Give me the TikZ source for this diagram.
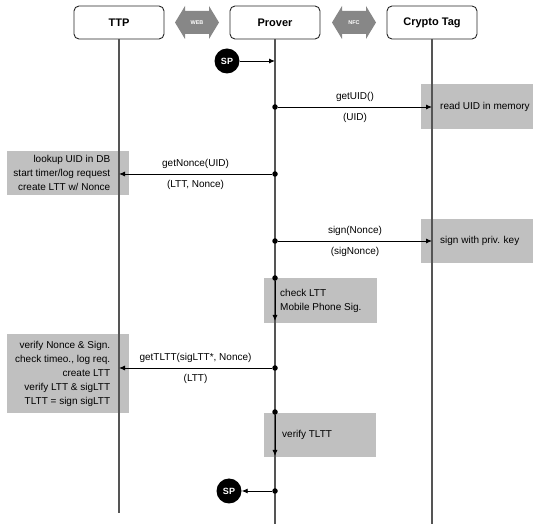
\documentclass[tikz,border=0pt]{standalone}
\usepackage{fontspec}
\setmainfont{Liberation Sans}
\usetikzlibrary{arrows.meta}
\definecolor{boxgray}{RGB}{192,192,192}
\definecolor{linkgray}{RGB}{135,135,135}
\definecolor{lifegray}{RGB}{85,85,85}
\tikzset{
  actor/.style={draw=black!85, rounded corners=5pt, line width=0.9pt,
                minimum width=90pt, minimum height=33pt,
                font=\fontsize{11}{13}\selectfont\bfseries},
  lifeline/.style={lifegray, line width=1.1pt},
  msg/.style={-{Latex[length=6pt,width=5pt]}, line width=0.9pt},
  graybox/.style={fill=boxgray, inner sep=0pt, anchor=north west},
  txt/.style={font=\fontsize{10}{14}\selectfont, inner sep=0pt},
  up/.style={txt, midway, yshift=10pt},
  down/.style={txt, midway, yshift=-11pt},
  dot/.style={circle, fill, inner sep=0pt, minimum size=5.5pt},
  sp/.style={circle, fill, inner sep=0pt, minimum size=25pt, text=white,
             font=\fontsize{9}{9}\selectfont\bfseries}
}
\begin{document}
\begin{tikzpicture}[x=1pt,y=-1pt]
\useasboundingbox (0,0) rectangle (539,529);
% gray boxes
\node[graybox, minimum width=112pt, minimum height=45pt] (readbox) at (421,84) {};
\node[graybox, minimum width=122pt, minimum height=44pt] (lookbox) at (7,151) {};
\node[graybox, minimum width=112pt, minimum height=44pt] (signbox) at (421,219) {};
\node[graybox, minimum width=113pt, minimum height=45pt] (checkbox) at (264,278) {};
\node[graybox, minimum width=122pt, minimum height=79pt] (verifybox) at (7,334) {};
\node[graybox, minimum width=112pt, minimum height=44pt] (tlttbox) at (264,413) {};
% actors
\node[actor] (ttp) at (119,22.5) {TTP};
\node[actor] (prover) at (275,22.5) {Prover};
\node[actor] (tag) at (432,22.5) {Crypto Tag};
\foreach \x/\t in {175/WEB,332/NFC}{
  \fill[linkgray] (\x,22.5) -- (\x+10,6) -- (\x+10,11) -- (\x+34,11) -- (\x+34,6)
     -- (\x+44,22.5) -- (\x+34,39) -- (\x+34,34) -- (\x+10,34) -- (\x+10,39) -- cycle;
  \node[white, font=\fontsize{5.5}{6}\selectfont\bfseries] (\t) at (\x+22,22.5) {\t};
}
% lifelines
\coordinate (ttpend) at (119,513);
\coordinate (proverend) at (275,524);
\coordinate (tagend) at (432,524);
\draw[lifeline] (ttp.south) -- (ttpend);
\draw[lifeline] (prover.south) -- (proverend);
\draw[lifeline] (tag.south) -- (tagend);
% start
\node[sp] (spstart) at (227,61) {SP};
\coordinate (p0) at (275,61);
\draw[msg] (spstart) -- (p0);
% messages
\node[dot] (d1) at (275,107) {};
\coordinate (t1) at (432,107);
\draw[msg] (d1) -- node[up] (getuid) {getUID()} node[down] (uid) {(UID)} (t1);
\node[dot] (d2) at (275,174) {};
\coordinate (t2) at (119,174);
\draw[msg] (d2) -- node[up] (getnonce) {getNonce(UID)} node[down] (lttnonce) {(LTT, Nonce)} (t2);
\node[dot] (d3) at (275,241) {};
\coordinate (t3) at (432,241);
\draw[msg] (d3) -- node[up] (sign) {sign(Nonce)} node[down] (signonce) {(sigNonce)} (t3);
\node[dot] (d4) at (275,278) {};
\coordinate (p4) at (275,321);
\draw[msg] (d4) -- (p4);
\node[dot] (d5) at (275,368) {};
\coordinate (t5) at (119,368);
\draw[msg] (d5) -- node[up] (gettltt) {getTLTT(sigLTT*, Nonce)} node[down] (ltt) {(LTT)} (t5);
\node[dot] (d6) at (275,412) {};
\coordinate (p6) at (275,456);
\draw[msg] (d6) -- (p6);
% end
\node[dot] (d7) at (275,491) {};
\node[sp] (spend) at (229,491) {SP};
\draw[msg] (d7) -- (spend);
% box texts
\node[txt, anchor=west, align=left] (readtxt) at ([xshift=19pt]readbox.west) {read UID in memory};
\node[txt, anchor=east, align=right] (looktxt) at ([xshift=-19pt]lookbox.east)
  {lookup UID in DB\\start timer/log request\\create LTT w/ Nonce};
\node[txt, anchor=west, align=left] (signtxt) at ([xshift=19pt]signbox.west) {sign with priv. key};
\node[txt, anchor=west, align=left] (checktxt) at ([xshift=16pt]checkbox.west)
  {check LTT\\Mobile Phone Sig.};
\node[txt, anchor=east, align=right] (verifytxt) at ([xshift=-19pt]verifybox.east)
  {verify Nonce \& Sign.\\check timeo., log req.\\create LTT\\verify LTT \& sigLTT\\TLTT = sign sigLTT};
\node[txt, anchor=west, align=left] (tllttxt) at ([xshift=18pt]tlttbox.west) {verify TLTT};
\end{tikzpicture}
\end{document}
